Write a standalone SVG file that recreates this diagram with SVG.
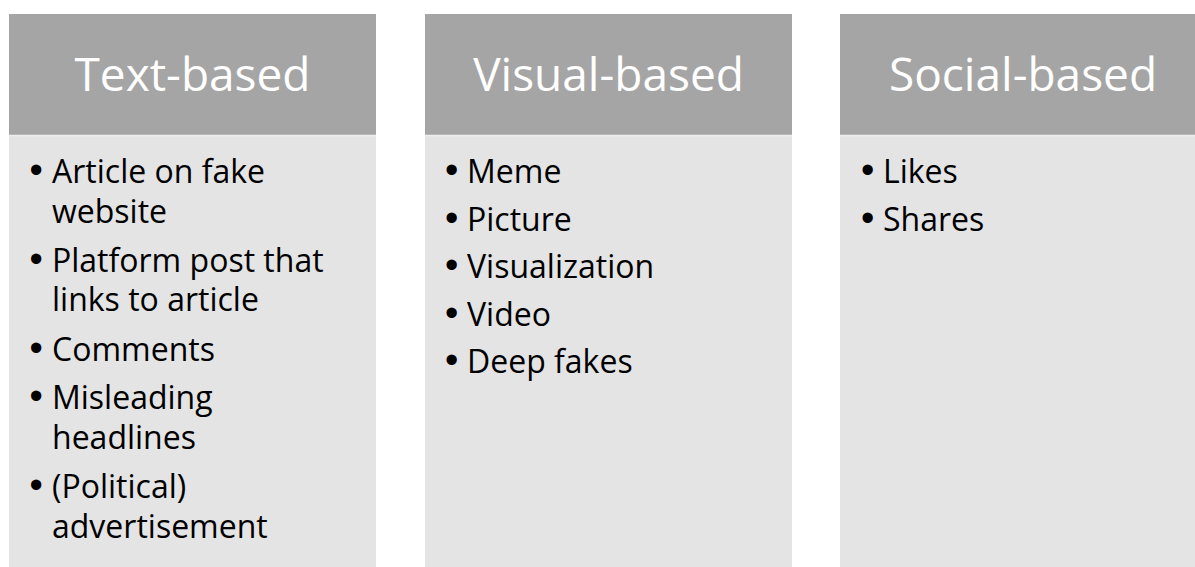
<svg xmlns="http://www.w3.org/2000/svg" width="1195" height="567" viewBox="0 0 1195 567">
  <style>
    .head { fill: #A5A5A5; }
    .body { fill: #E4E4E4; }
    .sep { stroke: #EEEEEE; stroke-width: 1.5; }
    .title { font-family: "Open Sans", "Noto Sans", sans-serif; font-size: 46px; fill: #FFFFFF; text-anchor: middle; }
    .item { font-family: "Open Sans", "Noto Sans", sans-serif; font-size: 32px; fill: #000000; }
    .dot { font-family: "Liberation Sans", Arial, sans-serif; font-size: 38px; fill: #000000; }
  </style>
  <rect width="1195" height="567" fill="#FFFFFF"/>

  <!-- Column 1: text-based -->
  <g id="text-based">
    <rect class="head" x="9" y="14" width="367" height="121"/>
    <rect class="body" x="9" y="135" width="367" height="432"/>
    <line class="sep" x1="9" y1="135.5" x2="376" y2="135.5"/>
    <text class="title" x="192.5" y="91">Text-based</text>
    <text class="dot" x="29.5" y="183">•</text>
    <text class="item" x="52" y="183">Article on fake</text>
    <text class="item" x="52" y="222.5">website</text>
    <text class="dot" x="29.5" y="271.5">•</text>
    <text class="item" x="52" y="271.5">Platform post that</text>
    <text class="item" x="52" y="311">links to article</text>
    <text class="dot" x="29.5" y="360.5">•</text>
    <text class="item" x="52" y="360.5">Comments</text>
    <text class="dot" x="29.5" y="408.5">•</text>
    <text class="item" x="52" y="408.5">Misleading</text>
    <text class="item" x="52" y="449">headlines</text>
    <text class="dot" x="29.5" y="498">•</text>
    <text class="item" x="52" y="498">(Political)</text>
    <text class="item" x="52" y="538">advertisement</text>
  </g>

  <!-- Column 2: visual-based -->
  <g id="visual-based">
    <rect class="head" x="425" y="14" width="367" height="121"/>
    <rect class="body" x="425" y="135" width="367" height="432"/>
    <line class="sep" x1="425" y1="135.5" x2="792" y2="135.5"/>
    <text class="title" x="608.5" y="91">Visual-based</text>
    <text class="dot" x="445" y="183.3">•</text>
    <text class="item" x="467" y="183.3">Meme</text>
    <text class="dot" x="445" y="231">•</text>
    <text class="item" x="467" y="231">Picture</text>
    <text class="dot" x="445" y="278.3">•</text>
    <text class="item" x="467" y="278.3">Visualization</text>
    <text class="dot" x="445" y="326">•</text>
    <text class="item" x="467" y="326">Video</text>
    <text class="dot" x="445" y="373.3">•</text>
    <text class="item" x="467" y="373.3">Deep fakes</text>
  </g>

  <!-- Column 3: social-based (runs off the right edge) -->
  <g id="social-based">
    <rect class="head" x="840" y="14" width="367" height="121"/>
    <rect class="body" x="840" y="135" width="367" height="432"/>
    <line class="sep" x1="840" y1="135.5" x2="1207" y2="135.5"/>
    <text class="title" x="1023" y="91">Social-based</text>
    <text class="dot" x="861" y="182.7">•</text>
    <text class="item" x="883" y="182.7">Likes</text>
    <text class="dot" x="861" y="230.7">•</text>
    <text class="item" x="883" y="230.7">Shares</text>
  </g>

  <g id="connectors"/>
</svg>
